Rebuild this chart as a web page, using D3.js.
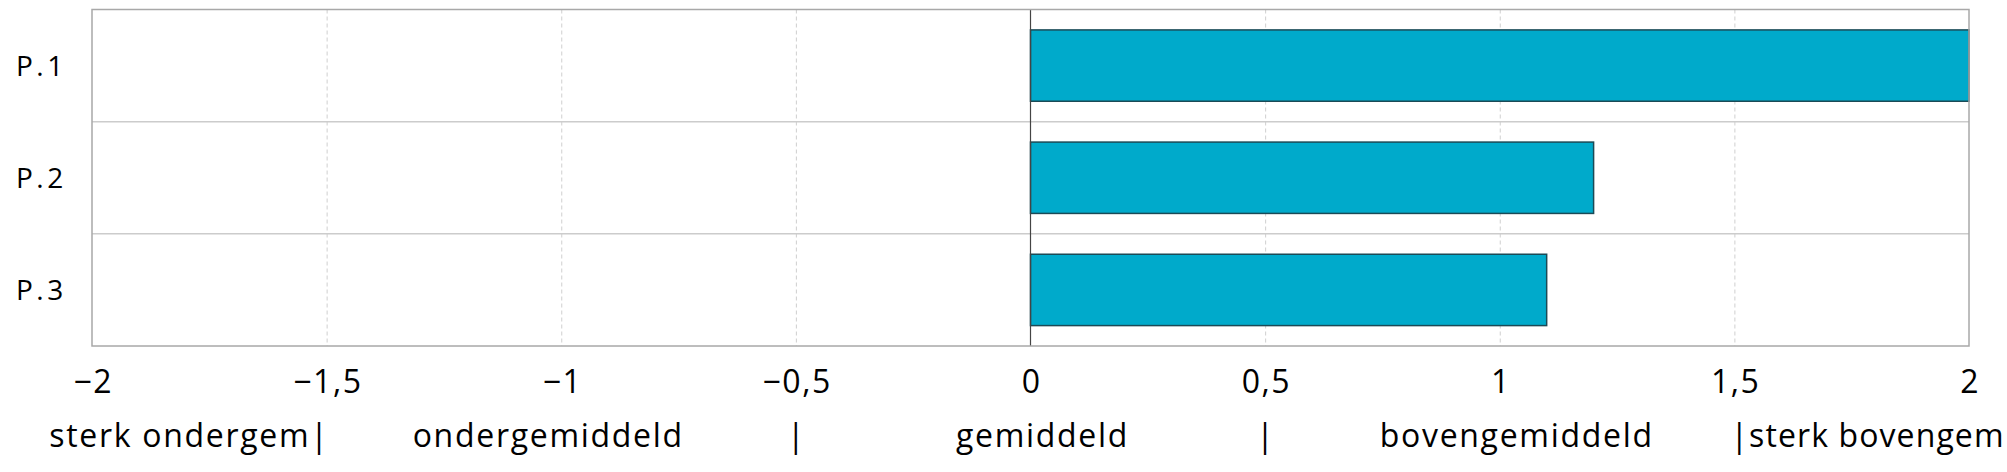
<!DOCTYPE html>
<html><head><meta charset="utf-8">
<script src="https://cdn.jsdelivr.net/npm/d3@7"></script>
<style>body{margin:0;background:#fff}svg{display:block}text{font-family:"Open Sans",sans-serif;fill:#000}</style>
</head><body><svg id="c" width="2007" height="472"></svg>
<script>
const categories = ["P.1", "P.2", "P.3"];
const values = [2.0, 1.2, 1.1];
const tickValues = [-2, -1.5, -1, -0.5, 0, 0.5, 1, 1.5, 2];
const bandLabels = ["sterk ondergem|", "ondergemiddeld", "|", "gemiddeld", "|", "bovengemiddeld", "|sterk bovengem"];
const bandAnchors = [-1.5, -1, -0.5, 0, 0.5, 1, 1.5];

const W = 2007, H = 472;
const m = {left: 92, right: 38, top: 9.5, bottom: 126};
const svg = d3.select("#c");
const x = d3.scaleLinear().domain([-2, 2]).range([m.left, W - m.right]);
const y = d3.scaleBand().domain(categories).range([m.top, H - m.bottom]).paddingInner(0.364).paddingOuter(0.182);
const step = y.step();

// vertical dashed gridlines
svg.append("g").selectAll("line").data(tickValues.filter(v => v !== 0 && Math.abs(v) !== 2)).join("line")
  .attr("x1", d => x(d) + 0.5).attr("x2", d => x(d) + 0.5)
  .attr("y1", m.top).attr("y2", H - m.bottom)
  .attr("stroke", "#cfcfcf").attr("stroke-width", 1).attr("stroke-dasharray", "4,3");

// horizontal row separators
svg.append("g").selectAll("line").data(categories.slice(1)).join("line")
  .attr("x1", m.left).attr("x2", W - m.right)
  .attr("y1", d => y(d) - step * y.paddingInner() / 2)
  .attr("y2", d => y(d) - step * y.paddingInner() / 2)
  .attr("stroke", "#cccccc").attr("stroke-width", 1.5);

// bars
svg.append("g").selectAll("rect").data(categories).join("rect")
  .attr("x", x(0)).attr("y", d => y(d))
  .attr("width", (d, i) => x(values[i]) - x(0))
  .attr("height", y.bandwidth())
  .attr("fill", "#00aacb").attr("stroke", "#1b4a56").attr("stroke-width", 1.5);

// zero line
svg.append("line").attr("x1", x(0)).attr("x2", x(0)).attr("y1", m.top).attr("y2", H - m.bottom)
  .attr("stroke", "#444").attr("stroke-width", 1.2);

// plot frame
svg.append("rect").attr("x", m.left).attr("y", m.top).attr("width", x(2) - x(-2)).attr("height", H - m.bottom - m.top)
  .attr("fill", "none").attr("stroke", "#a8a8a8").attr("stroke-width", 1.5);

// category labels
svg.append("g").selectAll("text").data(categories).join("text")
  .attr("x", 16).attr("y", d => y(d) + y.bandwidth() / 2 + 10.5)
  .attr("font-size", 28).attr("letter-spacing", 3.5).text(d => d);

// x axis tick labels
const fmt = v => (v < 0 ? "\u2212" : "") + String(Math.abs(v)).replace(".", ",");
const xAxis = d3.axisBottom(x).tickValues(tickValues).tickFormat(fmt).tickSize(0).tickPadding(0);
const gx = svg.append("g").attr("transform", `translate(0,${H - m.bottom})`).call(xAxis);
gx.select(".domain").remove();
gx.selectAll("text").attr("font-size", 32).attr("letter-spacing", 1.5).attr("dy", null).attr("y", 47)
  .attr("dx", 0.75).style("font-family", '"Open Sans",sans-serif').attr("fill", "#000");

// band labels (pixel nudges mimic the spacing of the original single-line label)
const nudge = [3, -13, 0.85, 12, 0.85, 17, -4];
const last = bandLabels.length - 1;
svg.append("g").selectAll("text").data(bandLabels).join("text")
  .attr("x", (d, i) => x(bandAnchors[i]) + nudge[i])
  .attr("y", 447)
  .attr("text-anchor", (d, i) => i === 0 ? "end" : (i === last ? "start" : "middle"))
  .attr("font-size", 32).attr("letter-spacing", (d, i) => i === last ? 1.1 : 1.7).text(d => d);
</script></body></html>
